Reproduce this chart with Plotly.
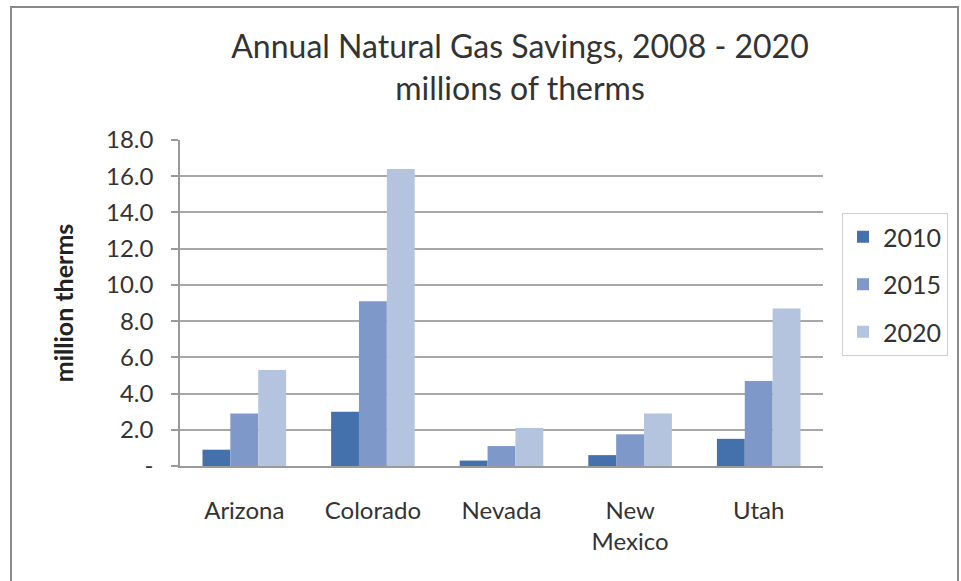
import plotly.graph_objects as go

# Annual natural gas savings by state, millions of therms
states = ["Arizona", "Colorado", "Nevada", "New<br>Mexico", "Utah"]
years = ["2010", "2015", "2020"]
savings_2010 = [0.9, 3.0, 0.3, 0.6, 1.5]
savings_2015 = [2.9, 9.1, 1.1, 1.75, 4.7]
savings_2020 = [5.3, 16.4, 2.1, 2.9, 8.7]
series = [savings_2010, savings_2015, savings_2020]
colors = ["#4470AC", "#7D98C9", "#B4C4DF"]

y_tick_vals = [0, 2, 4, 6, 8, 10, 12, 14, 16, 18]
y_tick_text = ["-", "2.0", "4.0", "6.0", "8.0", "10.0", "12.0", "14.0", "16.0", "18.0"]

W, H = 961, 581
L, R, T, B = 180, 823, 140, 466  # plot area in pixels

fig = go.Figure()
for yr, vals, col in zip(years, series, colors):
    fig.add_trace(go.Bar(
        x=states, y=vals, name=yr, marker_color=col,
        marker_line_width=0, legendgroup=yr,
    ))

font_family = "Lato, 'Open Sans', sans-serif"

fig.update_layout(
    width=W, height=H,
    margin=dict(l=L, r=W - R, t=T, b=H - B, pad=0),
    paper_bgcolor="white", plot_bgcolor="white",
    font=dict(family=font_family, color="#333333"),
    barmode="group", bargap=0.35, bargroupgap=0,
    title=dict(
        text="Annual Natural Gas Savings, 2008 - 2020<br>millions of therms",
        x=520 / W, xref="container", xanchor="center",
        y=1 - 58 / H, yref="container", yanchor="top",
        font=dict(size=32, color="#333333", family=font_family),
    ),
    xaxis=dict(
        showgrid=False, showline=True, linecolor="#9a9a9a", linewidth=1.5,
        ticks="", tickfont=dict(size=24, color="#333333"),
        ticklabelstandoff=22,
    ),
    yaxis=dict(
        range=[0, 18], tickvals=y_tick_vals, ticktext=y_tick_text,
        showgrid=True, gridcolor="#a8a8a8", gridwidth=1.5,
        showline=True, linecolor="#9a9a9a", linewidth=1.5,
        ticks="outside", ticklen=7, tickcolor="#9a9a9a", tickwidth=1.5,
        tickfont=dict(size=24, color="#333333"),
        ticklabelstandoff=13,
        zeroline=False,
        title=dict(text="<b>million therms</b>", font=dict(size=25, color="#222222"),
                   standoff=25),
    ),
    legend=dict(
        x=(842 - L) / (R - L), xanchor="left",
        y=(B - 213) / (B - T), yanchor="top",
        bordercolor="#cfcfcf", borderwidth=1,
        font=dict(size=25, color="#333333"),
        tracegroupgap=12, itemwidth=30,
    ),
    shapes=[dict(
        type="rect", xref="paper", yref="paper",
        x0=(11 - L) / (R - L), x1=(958 - L) / (R - L),
        y0=(B - 600) / (B - T), y1=(B - 7) / (B - T),
        line=dict(color="#8a8a8a", width=2), fillcolor="rgba(0,0,0,0)",
        layer="below",
    )],
)

fig.write_html("out.html")
